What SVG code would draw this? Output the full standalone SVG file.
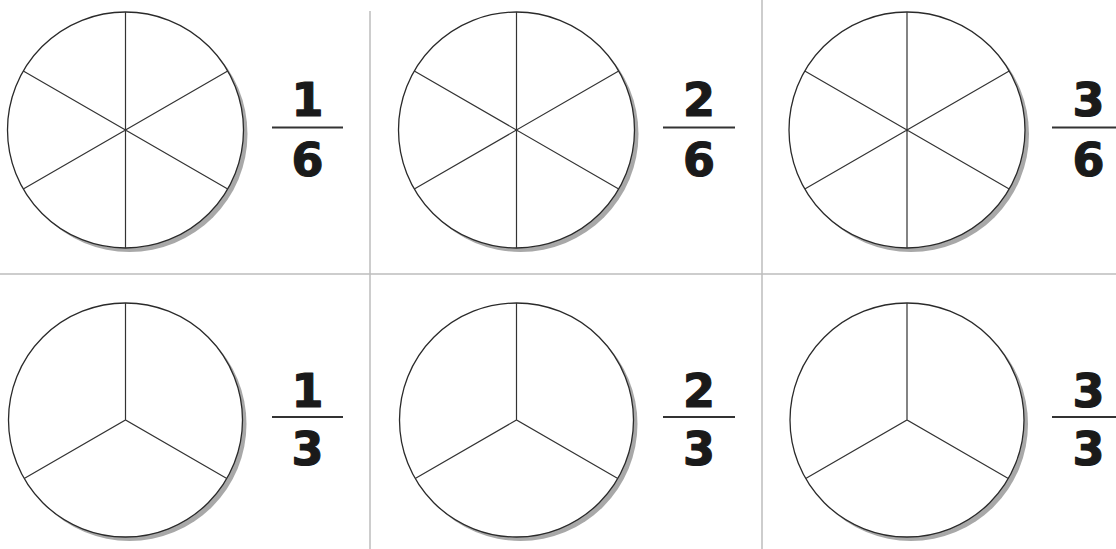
<svg xmlns="http://www.w3.org/2000/svg" width="1116" height="549" viewBox="0 0 1116 549">
<style>
.grid{stroke:#bdbdbd;stroke-width:1.5;fill:none}
.shadow{fill:#a8a8a8}
.disc{fill:#fff;stroke:#2a2a2a;stroke-width:1.3}
.spoke{stroke:#333;stroke-width:1.2;fill:none}
.bar{stroke:#333;stroke-width:1.8}
.num{font-family:"DejaVu Sans",Verdana,sans-serif;font-weight:bold;font-size:46px;fill:#1a1a1a;stroke:#1a1a1a;stroke-width:1.2;stroke-linejoin:round;text-anchor:middle}
</style>
<defs>
<g id="sixths">
<circle class="shadow" cx="4" cy="4" r="118"/>
<circle class="disc" cx="0" cy="0" r="118"/>
<path class="spoke" d="M0,-118V118M-102.2,-59L102.2,59M-102.2,59L102.2,-59"/>
</g>
<g id="thirds">
<circle class="shadow" cx="4" cy="4" r="117"/>
<circle class="disc" cx="0" cy="0" r="117"/>
<path class="spoke" d="M0,-117V0M-101.3,58.5L0,0L101.3,58.5"/>
</g>
</defs>
<g id="grid">
<line class="grid" x1="370" y1="11" x2="370" y2="549"/>
<line class="grid" x1="762" y1="0" x2="762" y2="549"/>
<line class="grid" x1="0" y1="274" x2="1116" y2="274"/>
</g>
<g id="n1"><use href="#sixths" x="125.5" y="130"/>
<text class="num" x="307.5" y="115.5">1</text><line class="bar" x1="272" y1="127.5" x2="343" y2="127.5"/><text class="num" x="307.5" y="176">6</text></g>
<g id="n2"><use href="#sixths" x="516.5" y="130"/>
<text class="num" x="699" y="115.5">2</text><line class="bar" x1="663" y1="127.5" x2="735" y2="127.5"/><text class="num" x="699" y="176">6</text></g>
<g id="n3"><use href="#sixths" x="907" y="130"/>
<text class="num" x="1088.5" y="115.5">3</text><line class="bar" x1="1052" y1="127.5" x2="1124" y2="127.5"/><text class="num" x="1088.5" y="176">6</text></g>
<g id="n4"><use href="#thirds" x="125.5" y="420"/>
<text class="num" x="307.5" y="406.5">1</text><line class="bar" x1="272" y1="417" x2="343" y2="417"/><text class="num" x="307.5" y="465">3</text></g>
<g id="n5"><use href="#thirds" x="516.5" y="420"/>
<text class="num" x="699" y="406.5">2</text><line class="bar" x1="663" y1="417" x2="735" y2="417"/><text class="num" x="699" y="465">3</text></g>
<g id="n6"><use href="#thirds" x="907" y="420"/>
<text class="num" x="1088.5" y="406.5">3</text><line class="bar" x1="1052" y1="417" x2="1124" y2="417"/><text class="num" x="1088.5" y="465">3</text></g>
</svg>
